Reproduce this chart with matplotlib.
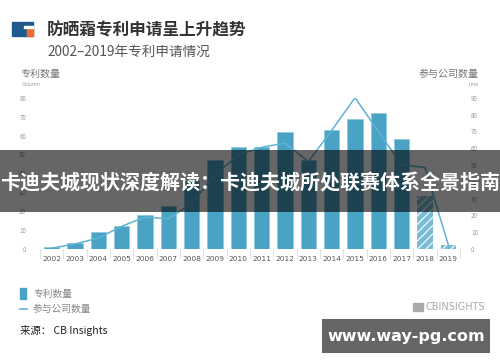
import numpy as np
import matplotlib
matplotlib.use("Agg")
import matplotlib.pyplot as plt
from matplotlib.patches import Rectangle

plt.rcParams['font.family'] = ['Noto Sans CJK SC', 'DejaVu Sans']
plt.rcParams['hatch.linewidth'] = 0.8

# 数据
years = [str(y) for y in range(2002, 2020)]
patents = [1, 3, 9, 12, 18, 23, 36, 47, 54, 54, 62, 47, 63, 69, 72, 58, 28, 2]
companies = [0.5, 3, 6.5, 13.5, 19, 18, 27, 44, 56, 60.5, 63, 52, 70.5, 90, 70, 50, 48.5, 2.4]
left_ticks = [0, 10, 20, 30, 40, 50, 60, 70, 80]
right_ticks = [0, 10, 20, 30, 40, 50, 60, 70, 80, 90]

W, H = 500, 362
fig = plt.figure(figsize=(W / 100, H / 100), dpi=100)

def fx(px):
    return px / W

def fy(py):
    return 1 - py / H

bar_c = '#4aa3c4'
line_c = '#5fb3d4'

ax = fig.add_axes([fx(40), fy(249), fx(420), fy(97.7) - fy(249)])
x = np.arange(len(years))
solid = x < 16
ax.bar(x[solid], np.array(patents)[solid], width=0.66, color=bar_c,
       edgecolor='#8fcbe0', linewidth=0.6, zorder=2)
ax.bar(x[~solid], np.array(patents)[~solid], width=0.66, color='#78bcd6',
       edgecolor='white', hatch='////', linewidth=0, zorder=2)
ax.set_xlim(-0.5, len(years) - 0.5)
ax.set_ylim(0, 80)
ax.set_yticks(left_ticks)
ax.set_xticks(x)
ax.set_xticklabels(years, fontsize=5.3, color='#555555', family='DejaVu Sans')
ax.tick_params(axis='x', length=0, pad=5)
ax.tick_params(axis='y', length=0, labelsize=4.5, labelcolor='#999999', pad=10)
for s in ax.spines.values():
    s.set_visible(False)
ax.axhline(0, color='#dddddd', lw=0.8, zorder=1)
for i in range(len(years) + 1):
    ax.plot([i - 0.5, i - 0.5], [0, -5], color='#dddddd', lw=0.6, clip_on=False)

ax2 = ax.twinx()
ax2.plot(x, companies, color=line_c, lw=1.1, zorder=3)
ax2.set_ylim(0, 90)
ax2.set_yticks(right_ticks)
ax2.tick_params(axis='y', length=0, labelsize=4.5, labelcolor='#999999', pad=8)
for s in ax2.spines.values():
    s.set_visible(False)

# 标题区
fig.patches.append(Rectangle((fx(12), fy(36)), fx(21), fy(22) - fy(36),
                             transform=fig.transFigure, color='#1e5a8c'))
fig.patches.append(Rectangle((fx(27), fy(36)), fx(6), fy(29) - fy(36),
                             transform=fig.transFigure, color='#f06a30'))
fig.patches.append(Rectangle((fx(24), fy(28)), fx(9), fy(26) - fy(28),
                             transform=fig.transFigure, color='white'))
fig.text(fx(47), fy(30), '防晒霜专利申请呈上升趋势', fontsize=12,
         color='#333333', va='center', fontweight='bold')
fig.text(fx(47), fy(52), '2002–2019年专利申请情况', fontsize=9.8,
         color='#555555', va='center')
fig.text(fx(20), fy(74), '专利数量', fontsize=7.2, color='#777777', va='center')
fig.text(fx(22), fy(84), 'Column', fontsize=3.5, color='#999999', va='center',
         family='DejaVu Sans')
fig.text(fx(479), fy(74), '参与公司数量', fontsize=7.2, color='#777777',
         va='center', ha='right')
fig.text(fx(479), fy(84), 'Line', fontsize=3.5, color='#999999', va='center',
         ha='right', family='DejaVu Sans')

# 图例与来源
fig.patches.append(Rectangle((fx(20), fy(299)), fx(6), fy(288) - fy(299),
                             transform=fig.transFigure, color=bar_c))
fig.text(fx(33), fy(293.5), '专利数量', fontsize=7, color='#888888', va='center')
fig.lines.append(plt.Line2D([fx(20), fx(27)], [fy(309), fy(309)],
                            transform=fig.transFigure, color=line_c, lw=1.2))
fig.text(fx(33), fy(309), '参与公司数量', fontsize=7, color='#888888', va='center')
fig.text(fx(20), fy(330), '来源： CB Insights', fontsize=7.5, color='#222222',
         va='center')

# CB Insights 标志
fig.patches.append(Rectangle((fx(413), fy(311)), fx(10), fy(303) - fy(311),
                             transform=fig.transFigure, color='#aaaaaa'))
fig.text(fx(425), fy(307), 'CBINSIGHTS', fontsize=7, color='#aaaaaa',
         va='center', family='DejaVu Sans')

# 覆盖条
fig.patches.append(Rectangle((0, fy(212)), 1, fy(150) - fy(212),
                             transform=fig.transFigure, facecolor='black',
                             edgecolor='none', alpha=0.6, zorder=10))
fig.text(0.5, fy(182), '卡迪夫城现状深度解读：卡迪夫城所处联赛体系全景指南',
         fontsize=14.4, color='white', fontweight='bold', ha='center',
         va='center', zorder=11)

# 水印
fig.patches.append(Rectangle((fx(322), fy(353)), fx(168), fy(319) - fy(353),
                             transform=fig.transFigure, facecolor='#666666',
                             edgecolor='none', zorder=10))
fig.text(fx(406), fy(336), 'www.way-pg.com', fontsize=11.5, color='white',
         fontweight='bold', ha='center', va='center', zorder=11,
         family='DejaVu Sans')

fig.savefig('out.png', dpi=100)
